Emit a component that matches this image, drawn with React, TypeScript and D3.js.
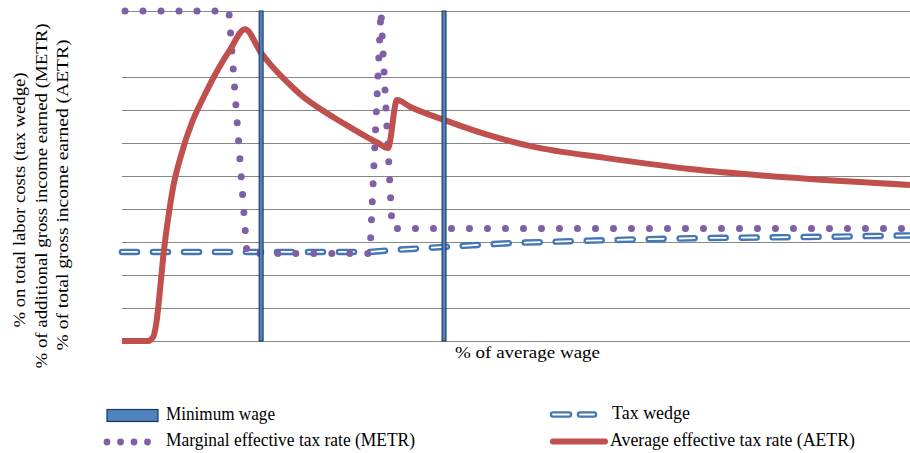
import React from "react";
import * as d3 from "d3";

// ---- data (x: % of average wage, y: %) ----
const aetrX = [0, 8.1, 9.7, 10.8, 11.8, 12.8, 14.4, 15.9, 18.5, 21.6, 25.4, 29.4, 33.5, 38.2, 43.2, 46.0, 49.1, 52.2, 55.3, 60.2, 65.5, 70.8, 76.1, 79.5, 82.6, 85.4, 89.4, 100, 112.1, 127.6, 150, 179.5, 210.6, 244.7];
const aetrY = [0, 0, 1.3, 6.4, 15.5, 25.5, 37.6, 46.7, 56.8, 65.9, 74.0, 81.6, 88.2, 94.5, 87.3, 83.9, 80.6, 77.6, 74.8, 71.2, 67.9, 64.8, 61.8, 60.0, 58.5, 73.0, 71.0, 67.0, 62.9, 58.9, 55.5, 51.8, 49.3, 47.3];

const metrX = [0, 33.2, 38.8, 77.0, 80.4, 83.9, 244.7];
const metrY = [100, 100, 26.5, 26.5, 100, 34.1, 34.1];

const wedgeX = [0, 77.0, 81.9, 101.3, 121.3, 140.7, 160.4, 180.3, 200, 219.5, 244.7];
const wedgeY = [27.0, 27.0, 27.4, 28.6, 29.7, 30.3, 30.8, 31.2, 31.4, 31.6, 32.0];

const markerWages = [43.2, 100];
const gridValues = [0, 10, 20, 30, 40, 50, 60, 70, 80, 100];

const yLabels = [
  "% on total labor costs (tax wedge)",
  "% of additional gross income earned (METR)",
  "% of total gross income earned  (AETR)",
];
const xLabel = "% of average wage";
const legendLabels = [
  "Minimum wage",
  "Tax wedge",
  "Marginal effective tax rate (METR)",
  "Average effective tax rate (AETR)",
];

const BLUE = "#4F81BD";
const WEDGE = "#4377B6";
const RED = "#C0504D";
const PURPLE = "#7F5FA6";
const FONT = "'Liberation Serif', 'Times New Roman', 'DejaVu Serif', serif";

export default function App() {
  const x = d3.scaleLinear().domain([0, 244.7]).range([122, 910]);
  const y = d3.scaleLinear().domain([0, 100]).range([341, 11]);
  const line = d3
    .line<[number, number]>()
    .x((d) => x(d[0]))
    .y((d) => y(d[1]));
  const smooth = d3
    .line<[number, number]>()
    .x((d) => x(d[0]))
    .y((d) => y(d[1]))
    .curve(d3.curveMonotoneX);

  const aetr = aetrX.map((v, i) => [v, aetrY[i]] as [number, number]);
  const metr = metrX.map((v, i) => [v, metrY[i]] as [number, number]);
  const wedge = wedgeX.map((v, i) => [v, wedgeY[i]] as [number, number]);

  const yLabelPos = [
    { bx: 25, cy: 200, len: 255 },
    { bx: 47, cy: 196, len: 345 },
    { bx: 68, cy: 195, len: 311 },
  ];

  const txt = { fontFamily: FONT, fill: "#000" } as const;

  return (
    <svg
      width={910}
      height={453}
      style={{ position: "absolute", left: 0, top: 0, background: "#fff" }}
    >
      {/* gridlines */}
      {gridValues.map((g) => (
        <line
          key={g}
          x1={122}
          x2={910}
          y1={Math.round(y(g)) + 0.5}
          y2={Math.round(y(g)) + 0.5}
          stroke="#878787"
          strokeWidth={1}
        />
      ))}

      {/* tax wedge */}
      <path
        d={line(wedge) || ""}
        fill="none"
        stroke={WEDGE}
        strokeWidth={6.5}
        strokeDasharray="15 16"
        strokeLinecap="round"
      />
      <path
        d={line(wedge) || ""}
        fill="none"
        stroke="#fff"
        strokeWidth={1.8}
        strokeDasharray="15 16"
        strokeLinecap="round"
      />

      {/* METR */}
      <path
        d={line(metr) || ""}
        fill="none"
        stroke={PURPLE}
        strokeWidth={7}
        strokeDasharray="0 18"
        strokeDashoffset={15}
        strokeLinecap="round"
      />

      {/* AETR */}
      <path
        d={smooth(aetr) || ""}
        fill="none"
        stroke={RED}
        strokeWidth={6}
        strokeLinejoin="round"
      />

      {/* minimum wage / average wage markers */}
      {markerWages.map((m) => (
        <rect
          key={m}
          x={x(m) - 2}
          y={y(100)}
          width={4}
          height={y(0) - y(100)}
          fill={BLUE}
          stroke="#1F3450"
          strokeWidth={1}
        />
      ))}

      {/* y-axis labels */}
      {yLabels.map((t, i) => (
        <text
          key={t}
          transform={`translate(${yLabelPos[i].bx},${yLabelPos[i].cy}) rotate(-90)`}
          textAnchor="middle"
          fontSize={16}
          textLength={yLabelPos[i].len}
          lengthAdjust="spacingAndGlyphs"
          {...txt}
        >
          {t}
        </text>
      ))}

      {/* x-axis label */}
      <text x={455} y={358} fontSize={17} textLength={145} lengthAdjust="spacingAndGlyphs" {...txt}>
        {xLabel}
      </text>

      {/* legend */}
      <rect x={107} y={409.5} width={51} height={12} fill={BLUE} stroke="#17375E" strokeWidth={1.2} />
      <text x={166} y={420} fontSize={18} textLength={109} lengthAdjust="spacingAndGlyphs" {...txt}>
        {legendLabels[0]}
      </text>

      <line x1={553} x2={569} y1={414.5} y2={414.5} stroke={WEDGE} strokeWidth={6.5} strokeLinecap="round" />
      <line x1={553} x2={569} y1={414.5} y2={414.5} stroke="#fff" strokeWidth={1.8} strokeLinecap="round" />
      <line x1={580} x2={594} y1={414.5} y2={414.5} stroke={WEDGE} strokeWidth={6.5} strokeLinecap="round" />
      <line x1={580} x2={594} y1={414.5} y2={414.5} stroke="#fff" strokeWidth={1.8} strokeLinecap="round" />
      <text x={612} y={419} fontSize={18} textLength={78} lengthAdjust="spacingAndGlyphs" {...txt}>
        {legendLabels[1]}
      </text>

      {[107, 120.5, 134, 147.5].map((cx) => (
        <circle key={cx} cx={cx} cy={442} r={3.4} fill={PURPLE} />
      ))}
      <text x={166} y={446} fontSize={18} textLength={249} lengthAdjust="spacingAndGlyphs" {...txt}>
        {legendLabels[2]}
      </text>

      <line x1={553} x2={605} y1={441.5} y2={441.5} stroke={RED} strokeWidth={6} strokeLinecap="round" />
      <text x={610} y={446} fontSize={18} textLength={245} lengthAdjust="spacingAndGlyphs" {...txt}>
        {legendLabels[3]}
      </text>
    </svg>
  );
}
